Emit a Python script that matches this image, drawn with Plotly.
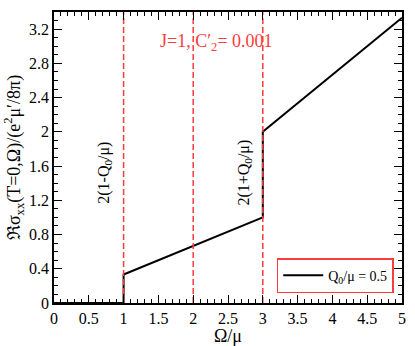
import plotly.graph_objects as go

# Data
omega = [0, 1, 1, 3, 3, 5]
sigma = [0, 0, 0.3333, 1.0, 2.0, 3.3333]
series_name = "Q<sub>0</sub>/μ = 0.5"
vlines_x = [1, 2, 3]
y_range = [0, 3.4]
x_range = [0, 5]

FONT = "Liberation Serif"
RED = "#ff3b3b"

fig = go.Figure()
fig.add_trace(go.Scatter(x=omega, y=sigma, mode="lines", name=series_name,
                         line=dict(color="black", width=2)))
for xv in vlines_x:
    fig.add_trace(go.Scatter(x=[xv, xv], y=y_range, mode="lines", showlegend=False,
                             line=dict(color=RED, width=1.5, dash="6px,3px"),
                             hoverinfo="skip"))

fig.add_annotation(x=2.33, y=3.04, text="J=1, C′<sub>2</sub>= 0.001", showarrow=False,
                   font=dict(family=FONT, size=18, color=RED))
fig.add_annotation(x=0.73, y=1.52, text="2(1-Q<sub>0</sub>/μ)", showarrow=False, textangle=-90,
                   font=dict(family=FONT, size=16, color="black"))
fig.add_annotation(x=2.74, y=1.52, text="2(1+Q<sub>0</sub>/μ)", showarrow=False, textangle=-90,
                   font=dict(family=FONT, size=16, color="black"))

axis_common = dict(showline=True, mirror="ticks", linecolor="black", linewidth=1.5,
                   ticks="inside", ticklen=8, tickwidth=1.2, tickcolor="black",
                   showgrid=False, zeroline=False, automargin=False,
                   tickfont=dict(family=FONT, size=16, color="black"))

fig.update_xaxes(range=x_range, dtick=0.5, tick0=0,
                 minor=dict(ticks="inside", dtick=0.1, ticklen=4, tickcolor="black", showgrid=False),
                 title=dict(text="Ω/μ", font=dict(family=FONT, size=18, color="black"), standoff=6),
                 **axis_common)
fig.update_yaxes(range=y_range, dtick=0.4, tick0=0,
                 minor=dict(ticks="inside", dtick=0.1, ticklen=4, tickcolor="black", showgrid=False),
                 title=dict(text="ℜσ<sub>xx</sub>(T=0,Ω)/(e<sup>2</sup>μ′/8π)",
                            font=dict(family=FONT, size=18, color="black"), standoff=4),
                 **axis_common)

fig.update_layout(
    width=415, height=346,
    margin=dict(l=54, r=13, t=12, b=43),
    paper_bgcolor="white", plot_bgcolor="white",
    font=dict(family=FONT, color="black"),
    showlegend=True,
    legend=dict(x=0.64, y=0.034, xanchor="left", yanchor="bottom",
                bordercolor=RED, borderwidth=1.5, bgcolor="white",
                font=dict(family=FONT, size=14, color="black"),
                itemwidth=40, tracegroupgap=0),
)

fig.write_html("out.html", post_script="document.body.style.margin='0';",
               config={"displayModeBar": False})
